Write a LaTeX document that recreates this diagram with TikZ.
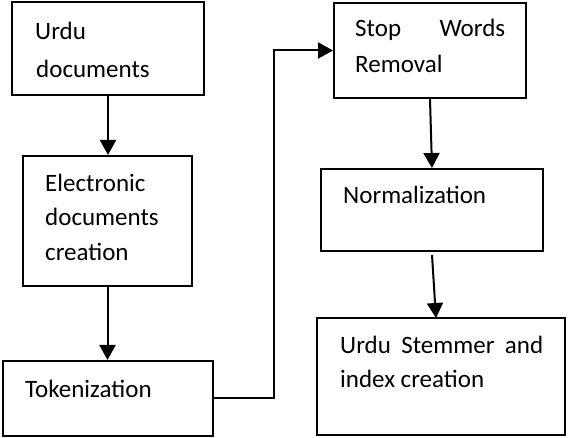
\documentclass[tikz,border=0pt]{standalone}
\usepackage{fontspec}
\setmainfont{Carlito}
\usetikzlibrary{arrows.meta,calc}
\begin{document}
\begin{tikzpicture}[x=1pt,y=-1pt,
  box/.style={draw=black,line width=2pt,rectangle,inner sep=0pt},
  txt/.style={anchor=base west,inner sep=0pt,font=\fontsize{25}{30}\selectfont},
  arr/.style={line width=2pt,-{Triangle[length=15pt,width=16pt]}}]
\useasboundingbox (0,0) rectangle (568,438);
% boxes
\node[box,minimum width=192pt,minimum height=93pt] (b1) at (108,48.5) {};
\node[box,minimum width=169pt,minimum height=130pt] (b2) at (107.5,221) {};
\node[box,minimum width=210pt,minimum height=75pt] (b3) at (108,398.5) {};
\node[box,minimum width=192pt,minimum height=95pt] (b4) at (430,50.5) {};
\node[box,minimum width=222pt,minimum height=82pt] (b5) at (432,210) {};
\node[box,minimum width=248pt,minimum height=117pt] (b6) at (441,376.5) {};
% texts
\node[txt] (t1a) at (35,40) {Urdu};
\node[txt] (t1b) at (36,77.5) {documents};
\node[txt] (t2a) at (45,191.5) {Electronic};
\node[txt] (t2b) at (45,226) {documents};
\node[txt] (t2c) at (45,260.5) {creation};
\node[txt] (t3) at (25,398) {Tokenization};
\node[txt] (t4a) at (355,36.5) {\makebox[150pt][s]{Stop Words}};
\node[txt] (t4b) at (355,72.5) {Removal};
\node[txt] (t5) at (343,204) {Normalization};
\node[txt] (t6a) at (340,354) {\makebox[203pt][s]{Urdu Stemmer and}};
\node[txt] (t6b) at (340,388) {index creation};
% connectors
\coordinate (bend) at (274,398.5);
\coordinate (s5) at (432,255);
\coordinate (e6) at (436,318);
\draw[arr] (b1.south) -- (b1.south |- b2.north);
\draw[arr] (b2.south) -- (b2.south |- b3.north);
\draw[arr] (b3.east) -- (bend) |- (b4.west);
\draw[arr] (b4.south) -- (b5.north);
\draw[arr] (s5) -- (e6);
\end{tikzpicture}
\end{document}
